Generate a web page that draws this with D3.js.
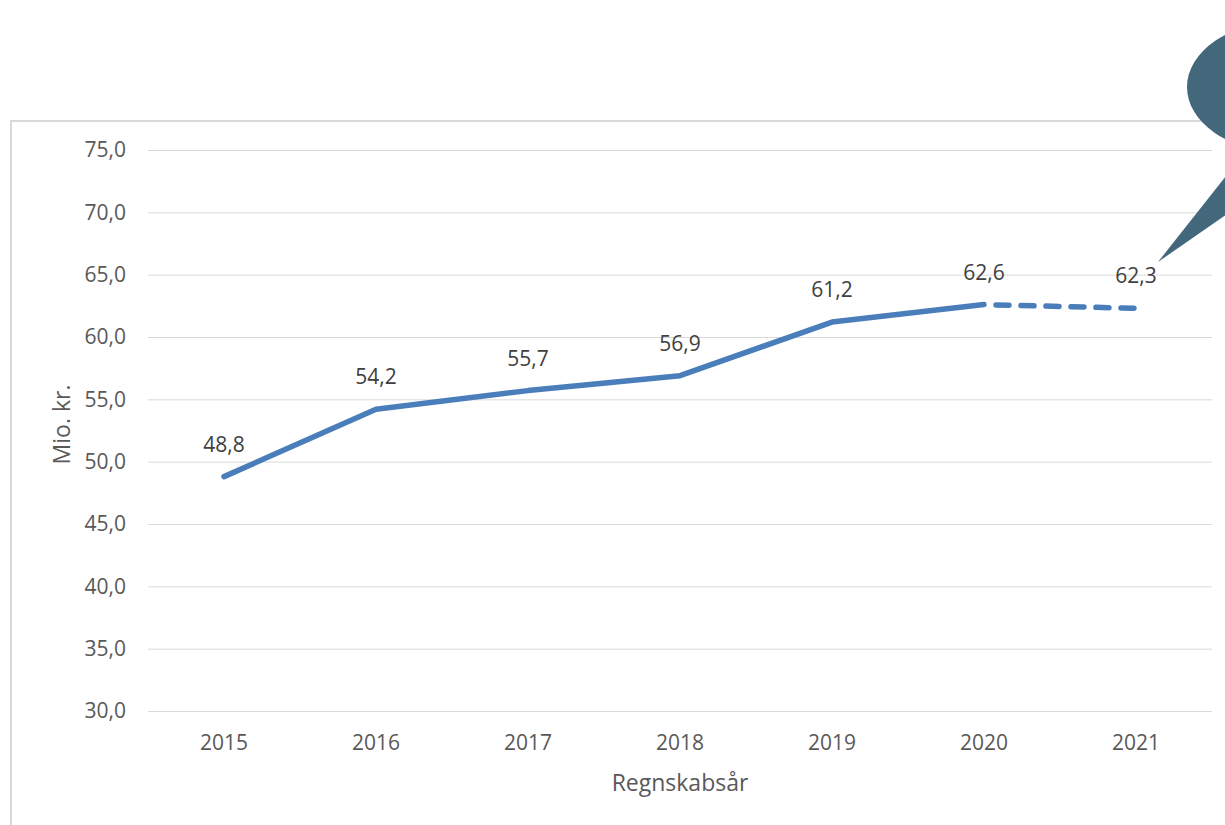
<!DOCTYPE html>
<html><head><meta charset="utf-8">
<script src="https://cdn.jsdelivr.net/npm/d3@7"></script>
<style>body{margin:0;background:#fff;} svg{display:block;font-family:"Open Sans",sans-serif;}</style>
</head><body>
<svg id="c" width="1225" height="825"></svg>
<script>
const years = ["2015","2016","2017","2018","2019","2020","2021"];
const actual = [48.8, 54.2, 55.7, 56.9, 61.2, 62.6, null];
const forecast = [null, null, null, null, null, 62.6, 62.3];
const labels = ["48,8","54,2","55,7","56,9","61,2","62,6","62,3"];
const yTicks = [30,35,40,45,50,55,60,65,70,75];
const yTitle = "Mio. kr.";
const xTitle = "Regnskabsår";

const svg = d3.select("#c");
const pL = 148, pR = 1212, pT = 150, pB = 711;
const x = d3.scaleBand().domain(years).range([pL, pR]);
const y = d3.scaleLinear().domain([30, 75]).range([pB, pT]);
const fmt = d => d.toFixed(1).replace(".", ",");

// frame
svg.append("rect").attr("x", 11).attr("y", 121).attr("width", 1300).attr("height", 800)
  .attr("fill", "none").attr("stroke", "#d9d9d9").attr("stroke-width", 2);

// grid
const ya = d3.axisLeft(y).tickValues(yTicks).tickSize(-(pR - pL)).tickFormat(fmt).tickPadding(22);
const gy = svg.append("g").attr("transform", `translate(${pL},0)`).call(ya);
gy.select(".domain").remove();
gy.selectAll("line").attr("stroke", "#d9d9d9").attr("stroke-width", 1);
gy.selectAll("text").attr("fill", "#595959").style("font-size", "21px").style("font-family", "'Open Sans'");

const xa = d3.axisBottom(x).tickSize(0).tickPadding(24);
const gx = svg.append("g").attr("transform", `translate(0,${pB})`).call(xa);
gx.select(".domain").remove();
gx.selectAll("text").attr("fill", "#595959").style("font-size", "21px").style("font-family", "'Open Sans'");

svg.append("text").attr("x", (pL + pR) / 2).attr("y", 791).attr("text-anchor", "middle")
  .attr("fill", "#595959").style("font-size", "23px").text(xTitle);
svg.append("text").attr("transform", `translate(70,${(pT + pB) / 2 - 6}) rotate(-90)`)
  .attr("text-anchor", "middle").attr("fill", "#595959").style("font-size", "23px").text(yTitle);

const cx = d => x(d) + x.bandwidth() / 2;
const line = d3.line().defined(d => d[1] != null).x(d => cx(d[0])).y(d => y(d[1]));
const col = "#4a7ebb";
svg.append("path").datum(years.map((d, i) => [d, actual[i]])).attr("d", line)
  .attr("fill", "none").attr("stroke", col).attr("stroke-width", 5.5).attr("stroke-linecap", "round").attr("stroke-linejoin", "round");
svg.append("path").datum(years.map((d, i) => [d, forecast[i]])).attr("d", line)
  .attr("fill", "none").attr("stroke", col).attr("stroke-width", 5.5).attr("stroke-linecap", "round")
  .attr("stroke-dasharray", "13,12").attr("stroke-dashoffset", -12);

// data labels
years.forEach((d, i) => {
  const v = actual[i] != null ? actual[i] : forecast[i];
  svg.append("text").attr("x", cx(d)).attr("y", y(v) - 25).attr("text-anchor", "middle")
    .attr("fill", "#404040").style("font-size", "21px").text(labels[i]);
});

// speech bubble
svg.append("ellipse").attr("cx", 1282).attr("cy", 87).attr("rx", 95).attr("ry", 65).attr("fill", "#44687b");
svg.append("path").attr("d", "M1158,262 L1230,171 L1230,212 Z").attr("fill", "#44687b");
</script>
</body></html>
